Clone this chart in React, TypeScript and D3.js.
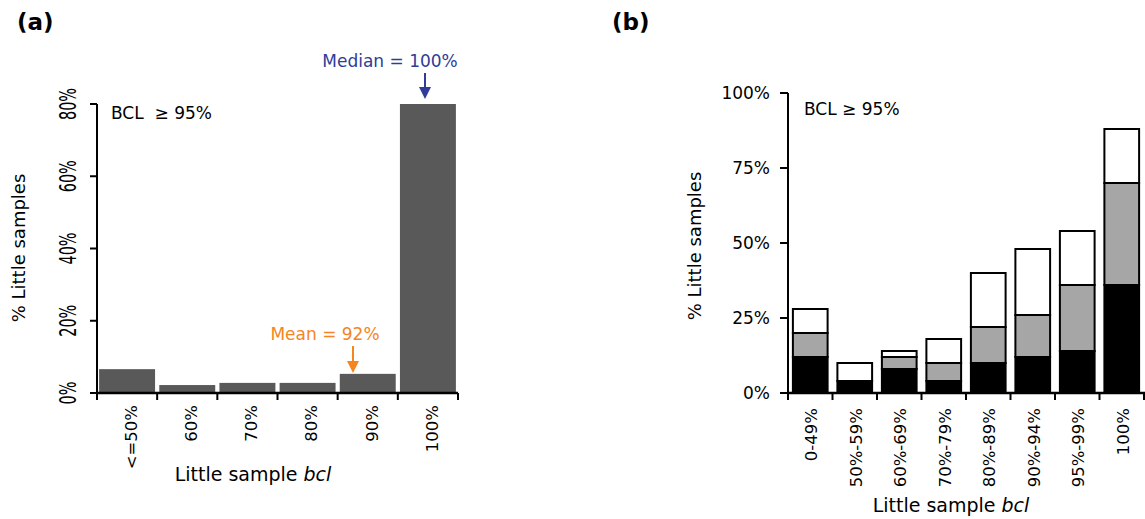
import React from "react";
import * as d3 from "d3";

// Panel (a) data
const catsA = ["<=50%", "60%", "70%", "80%", "90%", "100%"];
const valsA = [6.6, 2.2, 2.8, 2.8, 5.3, 80];
const ticksA = [0, 20, 40, 60, 80];

// Panel (b) data
const catsB = ["0-49%", "50%-59%", "60%-69%", "70%-79%", "80%-89%", "90%-94%", "95%-99%", "100%"];
const blackB = [12, 4, 8, 4, 10, 12, 14, 36];
const grayB = [8, 0, 4, 6, 12, 14, 22, 34];
const whiteB = [8, 6, 2, 8, 18, 22, 18, 18];
const ticksB = [0, 25, 50, 75, 100];

const FONT = "'DejaVu Sans', Verdana, sans-serif";
const BLUE = "#2E3D98";
const ORANGE = "#F5851F";

function Arrow({ x, y1, y2, color }: { x: number; y1: number; y2: number; color: string }) {
  const hh = 12;
  const hw = 6;
  return (
    <g>
      <line x1={x} x2={x} y1={y1} y2={y2 - hh + 1} stroke={color} strokeWidth={2} />
      <path d={`M${x - hw},${y2 - hh} L${x + hw},${y2 - hh} L${x},${y2} Z`} fill={color} />
    </g>
  );
}

function PanelA() {
  const y = d3.scaleLinear().domain([0, 80]).range([393, 104]);
  const x = d3.scaleBand<string>().domain(catsA).range([97, 458]).paddingInner(0.07).paddingOuter(0.035);
  const step = x.step();
  const x0 = 97;
  return (
    <g fontFamily={FONT}>
      <text x={17} y={30} fontSize={23} fontWeight="bold">(a)</text>
      {catsA.map((c, i) => (
        <rect key={c} x={x(c)} y={y(valsA[i])} width={x.bandwidth()} height={y(0) - y(valsA[i])} fill="#595959" />
      ))}
      {/* y axis */}
      <line x1={x0} x2={x0} y1={y(80)} y2={y(0)} stroke="#000" strokeWidth={2} />
      {ticksA.map((t) => (
        <g key={t}>
          <line x1={x0 - 7} x2={x0} y1={y(t)} y2={y(t)} stroke="#000" strokeWidth={2} />
          <text
            transform={`translate(${76},${y(t)}) rotate(-90)`}
            textAnchor="middle"
            fontSize={23}
            textLength={t === 0 ? 23 : 32}
            lengthAdjust="spacingAndGlyphs"
          >
            {`${t}%`}
          </text>
        </g>
      ))}
      {/* x axis */}
      <line x1={x0} x2={458} y1={y(0)} y2={y(0)} stroke="#000" strokeWidth={2.5} />
      {d3.range(catsA.length + 1).map((i) => (
        <line key={i} x1={x0 + i * step} x2={x0 + i * step} y1={y(0)} y2={y(0) + 7} stroke="#000" strokeWidth={2} />
      ))}
      {catsA.map((c) => (
        <text
          key={c}
          transform={`translate(${(x(c) as number) + x.bandwidth() / 2 + 4},${405}) rotate(-90)`}
          textAnchor="end"
          dy="0.35em"
          fontSize={16.5}
        >
          {c}
        </text>
      ))}
      <text transform={`translate(${25},${248}) rotate(-90)`} textAnchor="middle" fontSize={18}>
        % Little samples
      </text>
      <text x={253} y={481} textAnchor="middle" fontSize={19}>
        Little sample <tspan fontStyle="italic">bcl</tspan>
      </text>
      <text x={111} y={119} fontSize={17}>
        BCL {"\u00A0"}≥ 95%
      </text>
      <text x={390} y={67} textAnchor="middle" fontSize={17} fill={BLUE}>
        Median = 100%
      </text>
      <Arrow x={425} y1={73} y2={99} color={BLUE} />
      <text x={325} y={340} textAnchor="middle" fontSize={17} fill={ORANGE}>
        Mean = 92%
      </text>
      <Arrow x={353} y1={346} y2={373} color={ORANGE} />
    </g>
  );
}

function PanelB() {
  const y = d3.scaleLinear().domain([0, 100]).range([393, 93]);
  const x = d3.scaleBand<string>().domain(catsB).range([788, 1144]).paddingInner(0.22).paddingOuter(0.11);
  const step = x.step();
  const x0 = 788;
  const series = [
    { vals: blackB, fill: "#000000" },
    { vals: grayB, fill: "#A6A6A6" },
    { vals: whiteB, fill: "#FFFFFF" },
  ];
  const stacks = catsB.map((_, i) => {
    let acc = 0;
    return series.map((s) => {
      const lo = acc;
      acc += s.vals[i];
      return { lo, hi: acc, fill: s.fill };
    });
  });
  return (
    <g fontFamily={FONT}>
      <text x={612} y={30} fontSize={23} fontWeight="bold">(b)</text>
      {catsB.map((c, i) =>
        stacks[i]
          .filter((s) => s.hi > s.lo)
          .map((s, j) => (
            <rect
              key={c + j}
              x={x(c)}
              y={y(s.hi)}
              width={x.bandwidth()}
              height={y(s.lo) - y(s.hi)}
              fill={s.fill}
              stroke="#000"
              strokeWidth={2}
            />
          ))
      )}
      <line x1={x0} x2={x0} y1={y(100)} y2={y(0)} stroke="#000" strokeWidth={2} />
      {ticksB.map((t) => (
        <g key={t}>
          <line x1={x0 - 8} x2={x0} y1={y(t)} y2={y(t)} stroke="#000" strokeWidth={2} />
          <text x={770} y={y(t)} dy="0.35em" textAnchor="end" fontSize={17}>
            {`${t}%`}
          </text>
        </g>
      ))}
      <line x1={x0} x2={1145} y1={y(0)} y2={y(0)} stroke="#000" strokeWidth={2.5} />
      {d3.range(catsB.length + 1).map((i) => (
        <line key={i} x1={x0 + i * step} x2={x0 + i * step} y1={y(0)} y2={y(0) + 7} stroke="#000" strokeWidth={2} />
      ))}
      {catsB.map((c) => (
        <text
          key={c}
          transform={`translate(${(x(c) as number) + x.bandwidth() / 2 + 1},${408}) rotate(-90)`}
          textAnchor="end"
          dy="0.35em"
          fontSize={16.5}
        >
          {c}
        </text>
      ))}
      <text transform={`translate(${701},${246}) rotate(-90)`} textAnchor="middle" fontSize={18}>
        % Little samples
      </text>
      <text x={951} y={512} textAnchor="middle" fontSize={19}>
        Little sample <tspan fontStyle="italic">bcl</tspan>
      </text>
      <text x={804} y={115} fontSize={17}>
        BCL ≥ 95%
      </text>
    </g>
  );
}

export default function App() {
  return (
    <svg
      width={1145}
      height={519}
      viewBox="0 0 1145 519"
      style={{ position: "absolute", left: 0, top: 0, background: "#fff", display: "block" }}
    >
      <rect width={1145} height={519} fill="#fff" />
      <PanelA />
      <PanelB />
    </svg>
  );
}
